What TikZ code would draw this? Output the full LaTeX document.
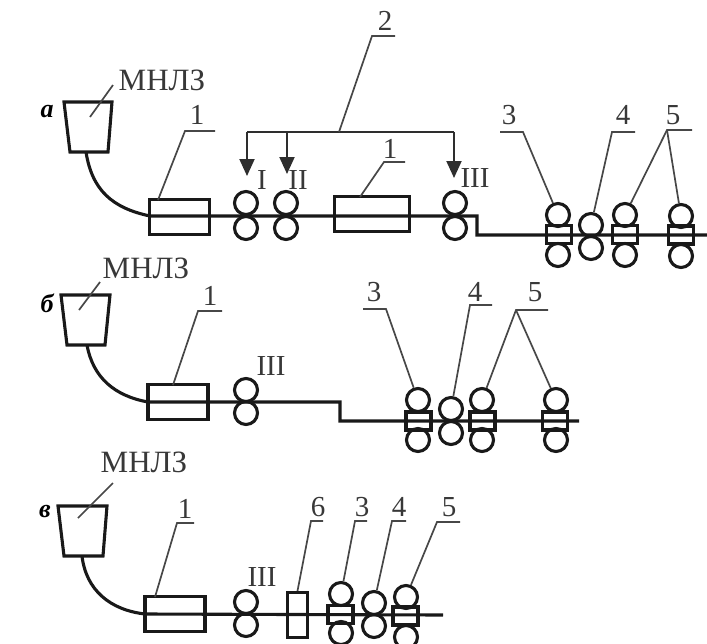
\documentclass[tikz,border=0pt]{standalone}
\usepackage{fontspec}
\setmainfont{Liberation Serif}
\usetikzlibrary{arrows.meta}
\tikzset{
  heavy/.style={line width=3.1pt,color=black!90,line join=miter},
  leader/.style={line width=1.7pt,color=black!72},
  bracket/.style={line width=2pt,color=black!82},
  feed/.style={bracket,-{Triangle[width=15pt,length=17pt]}},
  roll/.style={circle,draw,line width=3.1pt,color=black!90,minimum size=23pt,inner sep=0pt},
  unit/.style={rectangle,draw,line width=3.1pt,color=black!90,inner sep=0pt},
  stand/.style={unit,minimum width=25pt,minimum height=18pt},
  lbl/.style={inner sep=0pt,font=\fontsize{29}{31}\selectfont,color=black!78},
  mlbl/.style={inner sep=0pt,font=\fontsize{31}{33}\selectfont,color=black!78},
  panel/.style={inner sep=0pt,font=\fontsize{26}{28}\selectfont\bfseries\itshape,color=black}
}
\newcommand{\rollpair}[4]{\node[roll] (#1t) at (#2,#3) {};\node[roll] (#1b) at (#2,#4) {};}
\begin{document}
\begin{tikzpicture}[x=1pt,y=-1pt]
\useasboundingbox (0,0) rectangle (707,643);
% ---------- a
\node[panel] (pa) at (47,112) {а};
\node[mlbl] (ma) at (162,80) {МНЛЗ};
\coordinate (a1) at (64,102);\coordinate (a2) at (112,102);\coordinate (a3) at (108,152);\coordinate (a4) at (70,152);
\draw[heavy] (a1) -- (a2) -- (a3) -- (a4) -- cycle;
\coordinate (ams) at (90,117);\coordinate (ame) at (113,85);
\draw[leader] (ams) -- (ame);
\coordinate (acs) at (86,152);\coordinate (ace) at (150,216);
\coordinate (al1) at (477,216);\coordinate (al2) at (477,235);\coordinate (al3) at (707,235);
\draw[heavy] (acs) .. controls (92,190) and (112,208) .. (ace) -- (al1) -- (al2) -- (al3);
\node[unit,minimum width=60pt,minimum height=35pt] (ab1) at (179.5,217) {};
\node[unit,minimum width=75pt,minimum height=35pt] (ab2) at (372,214) {};
\rollpair{ar1}{246}{203}{228}
\rollpair{ar2}{286}{203}{228}
\rollpair{ar3}{455}{203}{228}
\node[lbl] (aI) at (262,180) {I};
\node[lbl] (aII) at (298,180) {II};
\node[lbl] (aIII) at (475,178) {III};
\node[lbl] (an1) at (197,115) {1};
\coordinate (ak1) at (185,131);\coordinate (ak1e) at (215,131);
\draw[leader] (158,200) -- (ak1) -- (ak1e);
\node[lbl] (an1b) at (390,149) {1};
\coordinate (ak2) at (384,162);\coordinate (ak2e) at (405,162);
\draw[leader] (360,197) -- (ak2) -- (ak2e);
\node[lbl] (an2) at (385,21) {2};
\coordinate (bL) at (247,132);\coordinate (bM) at (287,132);\coordinate (bJ) at (339,132);\coordinate (bR) at (454,132);
\coordinate (tL) at (247,176);\coordinate (tM) at (287,174);\coordinate (tR) at (454,178);
\draw[bracket] (bL) -- (bR);
\draw[feed] (bL) -- (tL);
\draw[feed] (bM) -- (tM);
\draw[feed] (bR) -- (tR);
\coordinate (ak3) at (372,36);\coordinate (ak3e) at (395,36);
\draw[leader] (bJ) -- (ak3) -- (ak3e);
\node[stand] (as3) at (559,234.5) {};
\node[stand] (as5a) at (625,234.5) {};
\node[stand] (as5b) at (681,235) {};
\rollpair{ar4}{558}{215}{255}
\rollpair{ar5}{591}{225}{248}
\rollpair{ar6}{625}{215}{255}
\rollpair{ar7}{681}{216}{256}
\node[lbl] (an3) at (509,115) {3};
\node[lbl] (an4) at (623,115) {4};
\node[lbl] (an5) at (673,115) {5};
\coordinate (k3a) at (500,132);\coordinate (k3b) at (523,132);
\draw[leader] (k3a) -- (k3b) -- (ar4t);
\coordinate (k4a) at (635,132);\coordinate (k4b) at (612,132);
\draw[leader] (k4a) -- (k4b) -- (ar5t);
\coordinate (k5a) at (692,130);\coordinate (k5b) at (667,130);
\draw[leader] (k5a) -- (k5b) -- (ar6t);
\draw[leader] (k5b) -- (ar7t);
% ---------- b
\node[panel] (pb) at (47,303) {б};
\node[mlbl] (mb) at (146,268) {МНЛЗ};
\coordinate (b1) at (61,295);\coordinate (b2) at (110,295);\coordinate (b3) at (105,345);\coordinate (b4) at (67,345);
\draw[heavy] (b1) -- (b2) -- (b3) -- (b4) -- cycle;
\coordinate (bms) at (79,310);\coordinate (bme) at (100,282);
\draw[leader] (bms) -- (bme);
\coordinate (bcs) at (87,345);\coordinate (bce) at (148,402);
\coordinate (bl1) at (340,402);\coordinate (bl2) at (340,421);\coordinate (bl3) at (579,421);
\draw[heavy] (bcs) .. controls (93,378) and (115,396) .. (bce) -- (bl1) -- (bl2) -- (bl3);
\node[unit,minimum width=60pt,minimum height=35pt] (bb1) at (178,402) {};
\rollpair{br1}{246}{390}{413}
\node[lbl] (bIII) at (271,366) {III};
\node[lbl] (bn1) at (210,296) {1};
\coordinate (bk1) at (198,311);\coordinate (bk1e) at (222,311);
\draw[leader] (173,385) -- (bk1) -- (bk1e);
\node[stand] (bs3) at (418.5,421) {};
\node[stand] (bs5a) at (482.5,421) {};
\node[stand] (bs5b) at (555,421) {};
\rollpair{br4}{418}{400}{440}
\rollpair{br5}{451}{409}{433}
\rollpair{br6}{482}{400}{440}
\rollpair{br7}{556}{400}{440}
\node[lbl] (bn3) at (374,292) {3};
\node[lbl] (bn4) at (475,292) {4};
\node[lbl] (bn5) at (535,292) {5};
\coordinate (m3a) at (363,309);\coordinate (m3b) at (386,309);
\draw[leader] (m3a) -- (m3b) -- (br4t);
\coordinate (m4a) at (492,305);\coordinate (m4b) at (470,305);
\draw[leader] (m4a) -- (m4b) -- (br5t);
\coordinate (m5a) at (548,310);\coordinate (m5b) at (516,310);
\draw[leader] (m5a) -- (m5b) -- (br6t);
\draw[leader] (m5b) -- (br7t);
% ---------- v
\node[panel] (pv) at (45,511) {в};
\node[mlbl] (mv) at (144,462) {МНЛЗ};
\coordinate (c1) at (58,506);\coordinate (c2) at (107,506);\coordinate (c3) at (103,556);\coordinate (c4) at (64,556);
\draw[heavy] (c1) -- (c2) -- (c3) -- (c4) -- cycle;
\coordinate (cms) at (78,518);\coordinate (cme) at (113,483);
\draw[leader] (cms) -- (cme);
\coordinate (ccs) at (82,556);\coordinate (cce) at (145,614);
\coordinate (cl1) at (443,615);
\draw[heavy] (ccs) .. controls (86,590) and (110,610) .. (cce) -- (cl1);
\node[unit,minimum width=60pt,minimum height=35pt] (cb1) at (175,614) {};
\node[unit,minimum width=20pt,minimum height=45pt] (cb6) at (297.5,615) {};
\rollpair{cr1}{246}{602}{625}
\node[lbl] (cIII) at (262,577) {III};
\node[stand] (cs3) at (340.5,614.5) {};
\node[stand] (cs5) at (405.5,616) {};
\rollpair{cr4}{341}{594}{633}
\rollpair{cr5}{374}{603}{626}
\rollpair{cr6}{406}{597}{637}
\node[lbl] (cn1) at (185,509) {1};
\node[lbl] (cn6) at (318,507) {6};
\node[lbl] (cn3) at (362,507) {3};
\node[lbl] (cn4) at (399,507) {4};
\node[lbl] (cn5) at (449,507) {5};
\coordinate (q1) at (177,523);\coordinate (q1e) at (194,523);
\draw[leader] (155,597) -- (q1) -- (q1e);
\coordinate (q6) at (311,521);\coordinate (q6e) at (323,521);
\draw[leader] (cb6.north) -- (q6) -- (q6e);
\coordinate (q3) at (355,521);\coordinate (q3e) at (367,521);
\draw[leader] (cr4t) -- (q3) -- (q3e);
\coordinate (q4) at (392,521);\coordinate (q4e) at (406,521);
\draw[leader] (cr5t) -- (q4) -- (q4e);
\coordinate (q5) at (437,522);\coordinate (q5e) at (460,522);
\draw[leader] (cr6t) -- (q5) -- (q5e);
\end{tikzpicture}
\end{document}
